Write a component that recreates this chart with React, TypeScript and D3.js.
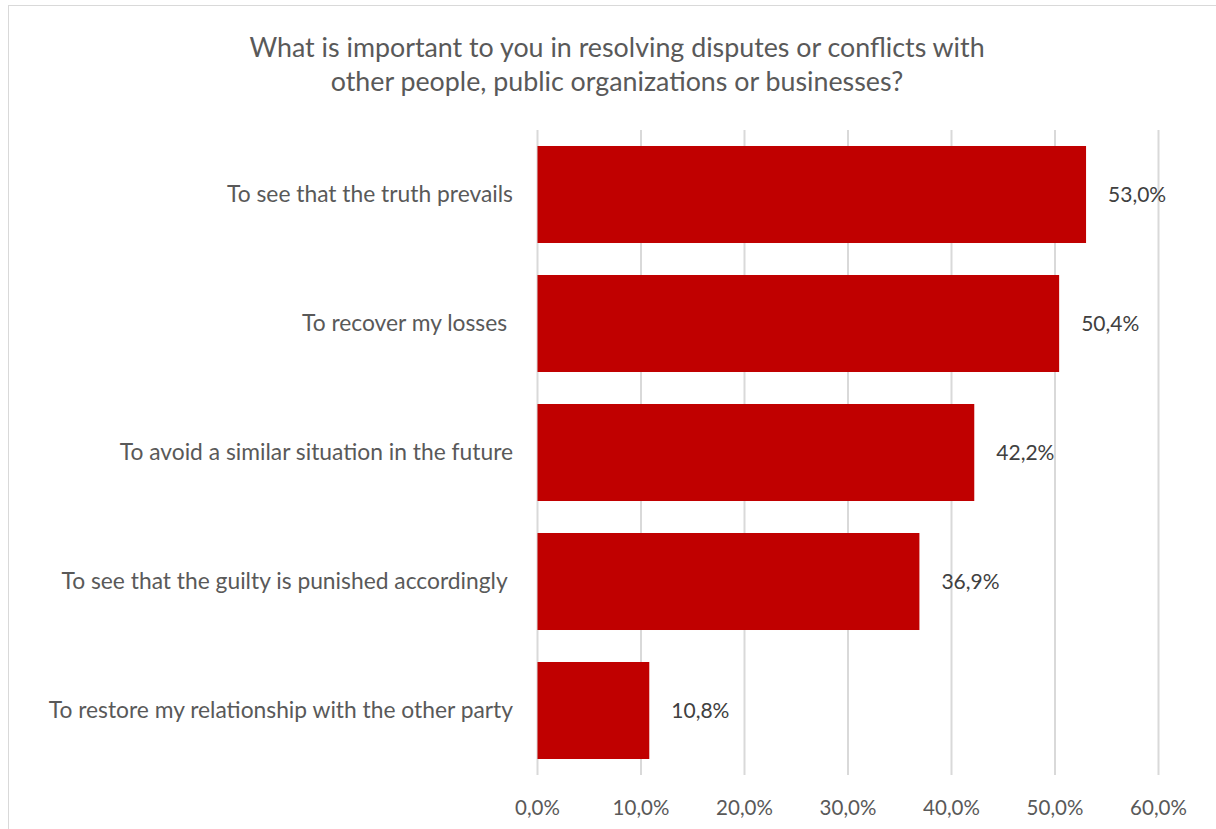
import React from "react";
import * as d3 from "d3";

const categories = [
  "To see that the truth prevails",
  "To recover my losses ",
  "To avoid a similar situation in the future",
  "To see that the guilty is punished accordingly ",
  "To restore my relationship with the other party",
];
const values = [53.0, 50.4, 42.2, 36.9, 10.8];
const ticks = [0, 10, 20, 30, 40, 50, 60];
const titleLines = [
  "What is important to you in resolving disputes or conflicts with",
  "other people, public organizations or businesses?",
];

const W = 1216;
const H = 829;
const FONT = "Lato, 'Open Sans', sans-serif";

const fmt = (v: number) => v.toFixed(1).replace(".", ",") + "%";

export default function App() {
  const x = d3.scaleLinear().domain([0, 60]).range([537.5, 1158.5]);
  const y = d3
    .scaleBand<string>()
    .domain(categories)
    .range([130, 775])
    .paddingInner(0.248)
    .paddingOuter(0.124);

  return (
    <svg
      width={W}
      height={H}
      style={{ position: "fixed", left: 0, top: 0, background: "#fff" }}
    >
      <rect x={0} y={0} width={W} height={H} fill="#fff" />
      <rect x={8.5} y={5.5} width={W + 20} height={H + 20} fill="#fff" stroke="#d9d9d9" strokeWidth={1} />
      {titleLines.map((t, i) => (
        <text
          key={i}
          x={617}
          y={57 + i * 34}
          textAnchor="middle"
          fontFamily={FONT}
          fontSize={26.8}
          fill="#595959"
        >
          {t}
        </text>
      ))}
      {ticks.map((t) => (
        <line
          key={t}
          x1={x(t)}
          x2={x(t)}
          y1={130}
          y2={775}
          stroke="#d9d9d9"
          strokeWidth={2}
        />
      ))}
      {categories.map((c, i) => (
        <g key={c}>
          <rect
            x={x(0)}
            y={y(c)!}
            width={x(values[i]) - x(0)}
            height={y.bandwidth()}
            fill="#C00000"
          />
          <text
            x={513}
            y={y(c)! + y.bandwidth() / 2}
            dy="0.35em"
            textAnchor="end"
            fontFamily={FONT}
            fontSize={22.8}
            fill="#595959"
            style={{ whiteSpace: "pre" }}
          >
            {c}
          </text>
          <text
            x={x(values[i]) + 22}
            y={y(c)! + y.bandwidth() / 2}
            dy="0.35em"
            fontFamily={FONT}
            fontSize={21}
            fill="#404040"
          >
            {fmt(values[i])}
          </text>
        </g>
      ))}
      {ticks.map((t) => (
        <text
          key={t}
          x={x(t)}
          y={808}
          dy="0.35em"
          textAnchor="middle"
          fontFamily={FONT}
          fontSize={20.5}
          fill="#595959"
        >
          {fmt(t)}
        </text>
      ))}
    </svg>
  );
}
